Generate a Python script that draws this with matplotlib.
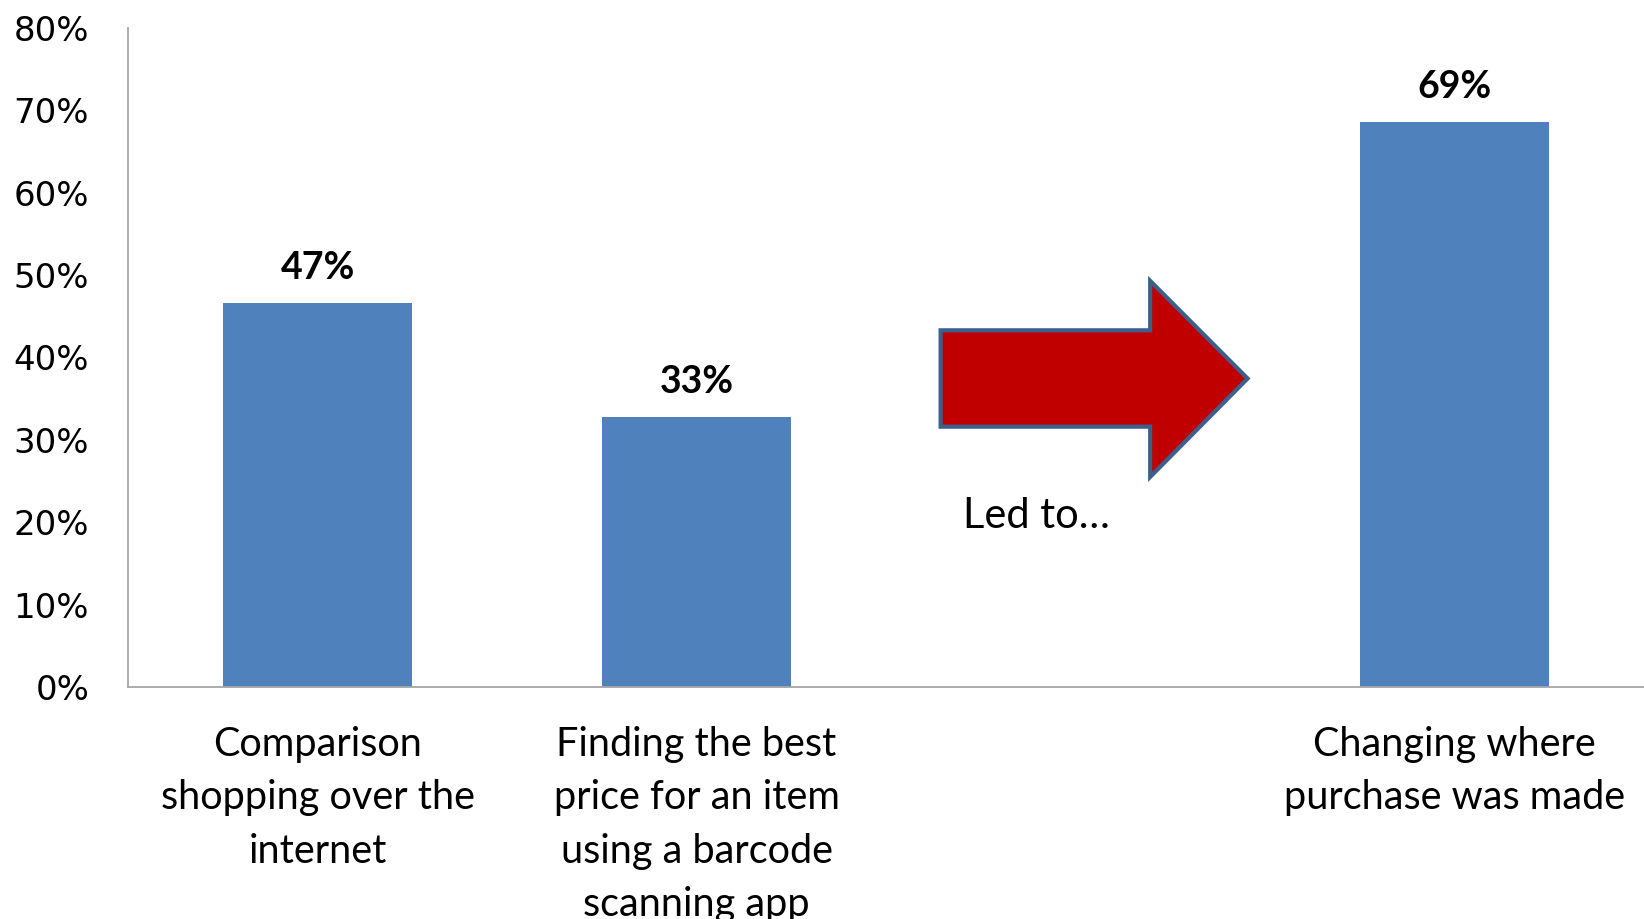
"""Bar chart: comparison shopping led to changing where purchase was made."""

import matplotlib
matplotlib.use("Agg")
import matplotlib.pyplot as plt
from matplotlib.patches import Polygon
from matplotlib.ticker import PercentFormatter

# ── Data ──────────────────────────────────────────────────────────────────────
categories = [
    "Comparison\nshopping over the\ninternet",
    "Finding the best\nprice for an item\nusing a barcode\nscanning app",
    "",
    "Changing where\npurchase was made",
]
bar_slots  = [0, 1, 3]
values     = [0.466, 0.328, 0.686]
bar_labels = ["47%", "33%", "69%"]
y_ticks    = [0.0, 0.1, 0.2, 0.3, 0.4, 0.5, 0.6, 0.7, 0.8]

BAR_COLOR   = "#4F81BD"
ARROW_FILL  = "#C00000"
ARROW_EDGE  = "#3C5F8C"
LABEL_FONT  = ["Lato", "DejaVu Sans"]

# ── Figure ────────────────────────────────────────────────────────────────────
fig = plt.figure(figsize=(16.44, 9.19), dpi=100)
ax = fig.add_axes([0.0779, 0.2525, 0.9221, 0.717])

ax.bar(bar_slots, values, width=0.5, color=BAR_COLOR, zorder=2)
for x, v, lab in zip(bar_slots, values, bar_labels):
    ax.annotate(lab, (x, v), xytext=(0, 13), textcoords="offset points",
                ha="center", va="bottom", fontsize=27, fontweight="bold",
                family=LABEL_FONT)

ax.set_xlim(-0.5, 3.5)
ax.set_ylim(0, 0.8)
ax.set_yticks(y_ticks)
ax.yaxis.set_major_formatter(PercentFormatter(1.0, decimals=0))
ax.set_xticks(range(len(categories)))
ax.set_xticklabels(categories, family=LABEL_FONT, fontsize=28.5,
                   linespacing=1.55, va="top")
ax.tick_params(axis="x", length=0, pad=28)
ax.tick_params(axis="y", length=0, pad=28, labelsize=24.5)

for side in ("top", "right"):
    ax.spines[side].set_visible(False)
for side in ("left", "bottom"):
    ax.spines[side].set_color("#A6A6A6")
    ax.spines[side].set_linewidth(1.3)

# ── "Led to..." arrow ─────────────────────────────────────────────────────────
arrow_pts = [
    (1.644, 0.433), (2.197, 0.433), (2.197, 0.493), (2.454, 0.3745),
    (2.197, 0.255), (2.197, 0.316), (1.644, 0.316),
]
ax.add_patch(Polygon(arrow_pts, closed=True, facecolor=ARROW_FILL,
                     edgecolor=ARROW_EDGE, linewidth=3, joinstyle="miter",
                     zorder=3))
ax.text(1.897, 0.207, "Led to…", ha="center", va="center", fontsize=30,
        family=LABEL_FONT)

fig.savefig("out.png", dpi=100)
